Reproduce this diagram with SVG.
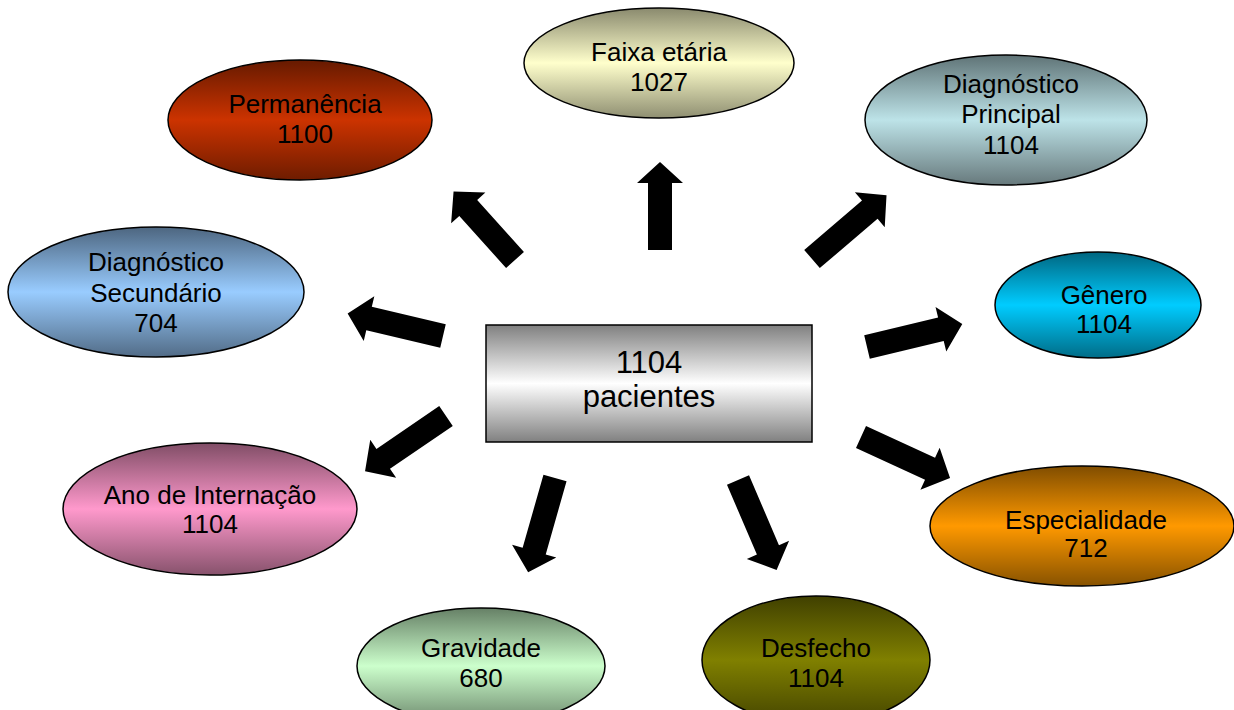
<svg xmlns="http://www.w3.org/2000/svg" xmlns:xlink="http://www.w3.org/1999/xlink" width="1234" height="710" viewBox="0 0 1234 710">
<defs>
<style>
.node{stroke:#000;stroke-width:1.5}
text{font-family:"Liberation Sans",Arial,sans-serif;font-size:26px;fill:#000;text-anchor:middle}
.big{font-size:31px}
.arr{fill:#000}
</style>
<linearGradient id="gFaixa" x1="0" y1="0" x2="0" y2="1"><stop offset="0" stop-color="#8A8A6E"/><stop offset="0.5" stop-color="#FFFFCC"/><stop offset="1" stop-color="#8F8F72"/></linearGradient>
<linearGradient id="gPerm" x1="0" y1="0" x2="0" y2="1"><stop offset="0" stop-color="#661A00"/><stop offset="0.5" stop-color="#CC3300"/><stop offset="1" stop-color="#6E1C00"/></linearGradient>
<linearGradient id="gDP" x1="0" y1="0" x2="0" y2="1"><stop offset="0" stop-color="#5F7376"/><stop offset="0.5" stop-color="#BDE3E8"/><stop offset="1" stop-color="#67797C"/></linearGradient>
<linearGradient id="gDS" x1="0" y1="0" x2="0" y2="1"><stop offset="0" stop-color="#4D6680"/><stop offset="0.5" stop-color="#99CCFF"/><stop offset="1" stop-color="#526C87"/></linearGradient>
<linearGradient id="gGen" x1="0" y1="0" x2="0" y2="1"><stop offset="0" stop-color="#006680"/><stop offset="0.5" stop-color="#00CCFF"/><stop offset="1" stop-color="#006C87"/></linearGradient>
<linearGradient id="gAno" x1="0" y1="0" x2="0" y2="1"><stop offset="0" stop-color="#804D66"/><stop offset="0.5" stop-color="#FF99CC"/><stop offset="1" stop-color="#87526C"/></linearGradient>
<linearGradient id="gEsp" x1="0" y1="0" x2="0" y2="1"><stop offset="0" stop-color="#804D00"/><stop offset="0.5" stop-color="#FF9900"/><stop offset="1" stop-color="#875200"/></linearGradient>
<linearGradient id="gGrav" x1="0" y1="0" x2="0" y2="1"><stop offset="0" stop-color="#668066"/><stop offset="0.5" stop-color="#CCFFCC"/><stop offset="1" stop-color="#6C876C"/></linearGradient>
<linearGradient id="gDes" x1="0" y1="0" x2="0" y2="1"><stop offset="0" stop-color="#404000"/><stop offset="0.5" stop-color="#808000"/><stop offset="1" stop-color="#444400"/></linearGradient>
<linearGradient id="gCenter" x1="0" y1="0" x2="0" y2="1"><stop offset="0" stop-color="#808080"/><stop offset="0.5" stop-color="#FFFFFF"/><stop offset="1" stop-color="#808080"/></linearGradient>
<path id="arrow98" d="M0,-12 L76,-12 L76,-23 L98,0 L76,23 L76,12 L0,12 Z"/>
<path id="arrow92" d="M0,-12 L70,-12 L70,-23 L92,0 L70,23 L70,12 L0,12 Z"/>
<path id="arrow88" d="M0,-12 L67,-12 L67,-23 L88,0 L67,23 L67,12 L0,12 Z"/>
</defs>
<rect width="1234" height="710" fill="#fff"/>

<g id="connectors" class="arr">
<use xlink:href="#arrow88" transform="translate(660,250) rotate(-90)"/>
<use xlink:href="#arrow92" transform="translate(515,260) rotate(-131.9)"/>
<use xlink:href="#arrow98" transform="translate(812,259) rotate(-40.5)"/>
<use xlink:href="#arrow98" transform="translate(443,336) rotate(-166.7)"/>
<use xlink:href="#arrow98" transform="translate(867,347) rotate(-13.5)"/>
<use xlink:href="#arrow98" transform="translate(446,416) rotate(145.7)"/>
<use xlink:href="#arrow98" transform="translate(861,437) rotate(24.7)"/>
<use xlink:href="#arrow98" transform="translate(555,478) rotate(105.9)"/>
<use xlink:href="#arrow98" transform="translate(738,480) rotate(66.8)"/>
</g>

<g id="center">
<rect class="node" x="486" y="325" width="326" height="117" fill="url(#gCenter)"/>
<text class="big" x="649" y="373">1104</text>
<text class="big" x="649" y="407">pacientes</text>
</g>

<g id="faixa">
<ellipse class="node" cx="659" cy="63" rx="135" ry="55" fill="url(#gFaixa)"/>
<text x="659" y="61">Faixa etária</text>
<text x="659" y="91">1027</text>
</g>

<g id="permanencia">
<ellipse class="node" cx="300" cy="120" rx="132" ry="60" fill="url(#gPerm)"/>
<text x="305" y="113">Permanência</text>
<text x="305" y="143">1100</text>
</g>

<g id="diag-principal">
<ellipse class="node" cx="1006" cy="120" rx="141" ry="65" fill="url(#gDP)"/>
<text x="1011" y="93">Diagnóstico</text>
<text x="1011" y="123">Principal</text>
<text x="1011" y="154">1104</text>
</g>

<g id="diag-secundario">
<ellipse class="node" cx="156" cy="292" rx="148" ry="65" fill="url(#gDS)"/>
<text x="156" y="271">Diagnóstico</text>
<text x="156" y="302">Secundário</text>
<text x="156" y="332">704</text>
</g>

<g id="genero">
<ellipse class="node" cx="1098" cy="305" rx="103" ry="53" fill="url(#gGen)"/>
<text x="1104" y="304">Gênero</text>
<text x="1104" y="333">1104</text>
</g>

<g id="ano">
<ellipse class="node" cx="210" cy="509" rx="147" ry="66" fill="url(#gAno)"/>
<text x="210" y="504">Ano de Internação</text>
<text x="210" y="533">1104</text>
</g>

<g id="especialidade">
<ellipse class="node" cx="1082" cy="526" rx="152" ry="60" fill="url(#gEsp)"/>
<text x="1086" y="529">Especialidade</text>
<text x="1086" y="557">712</text>
</g>

<g id="gravidade">
<ellipse class="node" cx="481" cy="666" rx="124" ry="58" fill="url(#gGrav)"/>
<text x="481" y="657">Gravidade</text>
<text x="481" y="687">680</text>
</g>

<g id="desfecho">
<ellipse class="node" cx="816" cy="660" rx="114" ry="64" fill="url(#gDes)"/>
<text x="816" y="657">Desfecho</text>
<text x="816" y="687">1104</text>
</g>
</svg>
